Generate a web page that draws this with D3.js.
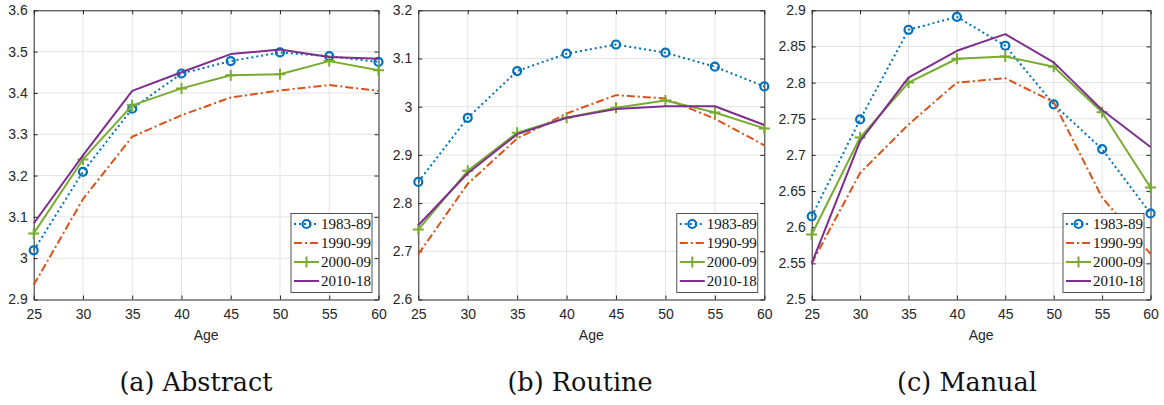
<!DOCTYPE html>
<html>
<head>
<meta charset="utf-8">
<script src="https://cdn.jsdelivr.net/npm/d3@7"></script>
<style>
  html, body { margin: 0; padding: 0; background: #fff; }
  svg { display: block; }
</style>
</head>
<body>
<svg id="chart" width="1164" height="405"></svg>
<script>
const ages    = [25, 30, 35, 40, 45, 50, 55, 60];
const periods = ["1983-89", "1990-99", "2000-09", "2010-18"];

// one row per period, one value per age
const abstractVals = [
  [3.019, 3.209, 3.362, 3.447, 3.477, 3.498, 3.489, 3.475],
  [2.935, 3.143, 3.294, 3.346, 3.389, 3.406, 3.419, 3.405],
  [3.060, 3.239, 3.370, 3.411, 3.443, 3.445, 3.477, 3.455],
  [3.084, 3.249, 3.405, 3.450, 3.494, 3.505, 3.487, 3.483]
];
const routineVals = [
  [2.844, 2.977, 3.074, 3.110, 3.129, 3.112, 3.083, 3.042],
  [2.694, 2.840, 2.934, 2.986, 3.024, 3.017, 2.975, 2.920],
  [2.745, 2.867, 2.946, 2.977, 2.998, 3.013, 2.988, 2.955],
  [2.754, 2.862, 2.943, 2.977, 2.995, 3.001, 3.001, 2.962]
];
const manualVals = [
  [2.615, 2.749, 2.873, 2.891, 2.851, 2.770, 2.708, 2.619],
  [2.550, 2.675, 2.742, 2.800, 2.806, 2.773, 2.641, 2.563],
  [2.590, 2.724, 2.800, 2.833, 2.836, 2.822, 2.759, 2.655],
  [2.550, 2.719, 2.807, 2.844, 2.867, 2.828, 2.762, 2.711]
];

const abstractTicks = [2.9, 3, 3.1, 3.2, 3.3, 3.4, 3.5, 3.6];
const routineTicks  = [2.6, 2.7, 2.8, 2.9, 3, 3.1, 3.2];
const manualTicks   = [2.5, 2.55, 2.6, 2.65, 2.7, 2.75, 2.8, 2.85, 2.9];
const captions      = ["(a) Abstract", "(b) Routine", "(c) Manual"];

/* ——— styling (MATLAB-ish defaults) ——————————————— */
const styles = [
  {color: "#0072BD", dash: "2,3",       marker: "circle"},
  {color: "#D95319", dash: "8,3,2,3",   marker: null},
  {color: "#77AC30", dash: null,        marker: "plus"},
  {color: "#7E2F8E", dash: null,        marker: null}
];
const axisCol = "#262626";
const gridCol = "#e3e3e3";

const panels = [
  {vals: abstractVals, ticks: abstractTicks, left: 33.7,  right: 378.5,  capX: 196},
  {vals: routineVals,  ticks: routineTicks,  left: 418.3, right: 764.3,  capX: 580},
  {vals: manualVals,   ticks: manualTicks,   left: 811.7, right: 1150.5, capX: 967}
];
const plotTop = 10.3, plotBottom = 299.5;

const svg = d3.select("#chart");
svg.append("rect").attr("width", 1164).attr("height", 405).attr("fill", "#fff");

const fmt = d => String(+d.toFixed(2));

panels.forEach((p, pi) => {
  const x = d3.scaleLinear([25, 60], [p.left, p.right]);
  const y = d3.scaleLinear(d3.extent(p.ticks), [plotBottom, plotTop]);
  const w = p.right - p.left;
  const g = svg.append("g");

  /* ——— grid ——————————————————————————— */
  const grid = g.append("g").attr("stroke", gridCol).attr("stroke-width", 1);
  grid.selectAll("line.gx").data(ages.slice(1, -1)).join("line")
    .attr("class", "gx")
    .attr("x1", d => x(d)).attr("x2", d => x(d))
    .attr("y1", plotTop).attr("y2", plotBottom);
  grid.selectAll("line.gy").data(p.ticks.slice(1, -1)).join("line")
    .attr("class", "gy")
    .attr("x1", p.left).attr("x2", p.right)
    .attr("y1", d => y(d)).attr("y2", d => y(d));

  /* ——— axes (ticks inward, box mirrored) ——————— */
  const styleAxis = sel => {
    sel.selectAll("path, line").attr("stroke", axisCol).attr("stroke-width", 1);
    sel.selectAll("text").attr("fill", axisCol)
      .attr("font-family", "'Liberation Sans', Arial, sans-serif")
      .attr("font-size", 14);
  };
  g.append("g").attr("transform", `translate(0,${plotBottom})`)
    .call(d3.axisBottom(x).tickValues(ages).tickFormat(d3.format("d"))
      .tickSizeInner(-4).tickSizeOuter(0).tickPadding(10))
    .call(styleAxis);
  g.append("g").attr("transform", `translate(0,${plotTop})`)
    .call(d3.axisTop(x).tickValues(ages).tickFormat("")
      .tickSizeInner(-4).tickSizeOuter(0))
    .call(styleAxis);
  g.append("g").attr("transform", `translate(${p.left},0)`)
    .call(d3.axisLeft(y).tickValues(p.ticks).tickFormat(fmt)
      .tickSizeInner(-4).tickSizeOuter(0).tickPadding(6))
    .call(styleAxis);
  g.append("g").attr("transform", `translate(${p.right},0)`)
    .call(d3.axisRight(y).tickValues(p.ticks).tickFormat("")
      .tickSizeInner(-4).tickSizeOuter(0))
    .call(styleAxis);

  g.append("text")
    .attr("x", p.left + w / 2).attr("y", 340)
    .attr("text-anchor", "middle")
    .attr("font-family", "'Liberation Sans', Arial, sans-serif")
    .attr("font-size", 14).attr("fill", axisCol)
    .text("Age");

  /* ——— series ——————————————————————————— */
  const line = d3.line().x((d, i) => x(ages[i])).y(d => y(d));
  p.vals.forEach((vals, si) => {
    const s = styles[si];
    g.append("path")
      .attr("d", line(vals))
      .attr("fill", "none")
      .attr("stroke", s.color)
      .attr("stroke-width", 2)
      .attr("stroke-linejoin", "round")
      .attr("stroke-dasharray", s.dash);
    drawMarkers(g, s, vals.map((v, i) => [x(ages[i]), y(v)]));
  });

  /* ——— legend ——————————————————————————— */
  const lw = 81, lh = 79;
  const lx = p.right - 6.5 - lw, ly = plotBottom - 7 - lh;
  const leg = g.append("g").attr("transform", `translate(${lx},${ly})`);
  leg.append("rect")
    .attr("width", lw).attr("height", lh)
    .attr("fill", "#fff").attr("stroke", axisCol).attr("stroke-width", 0.8);
  periods.forEach((name, si) => {
    const s = styles[si];
    const cy = 10.5 + si * 19;
    leg.append("line")
      .attr("x1", 3).attr("x2", 28).attr("y1", cy).attr("y2", cy)
      .attr("stroke", s.color).attr("stroke-width", 2)
      .attr("stroke-dasharray", s.dash);
    drawMarkers(leg, s, [[15.5, cy]]);
    leg.append("text")
      .attr("x", 30).attr("y", cy).attr("dy", "0.35em")
      .attr("font-family", "'Liberation Serif', 'Times New Roman', serif")
      .attr("font-size", 15).attr("fill", "#111")
      .text(name);
  });

  /* ——— caption ——————————————————————————— */
  svg.append("text")
    .attr("x", p.capX).attr("y", 391)
    .attr("text-anchor", "middle")
    .attr("font-family", "'DejaVu Serif', serif")
    .attr("font-size", 25.5).attr("fill", "#111")
    .text(captions[pi]);
});

function drawMarkers(g, s, pts) {
  if (s.marker === "circle") {
    g.selectAll(null).data(pts).join("circle")
      .attr("cx", d => d[0]).attr("cy", d => d[1]).attr("r", 4)
      .attr("fill", "none").attr("stroke", s.color).attr("stroke-width", 2.2);
  } else if (s.marker === "plus") {
    g.selectAll(null).data(pts).join("path")
      .attr("d", d => `M${d[0] - 5.5},${d[1]}h11M${d[0]},${d[1] - 5.5}v11`)
      .attr("fill", "none").attr("stroke", s.color).attr("stroke-width", 2);
  }
}
</script>
</body>
</html>
